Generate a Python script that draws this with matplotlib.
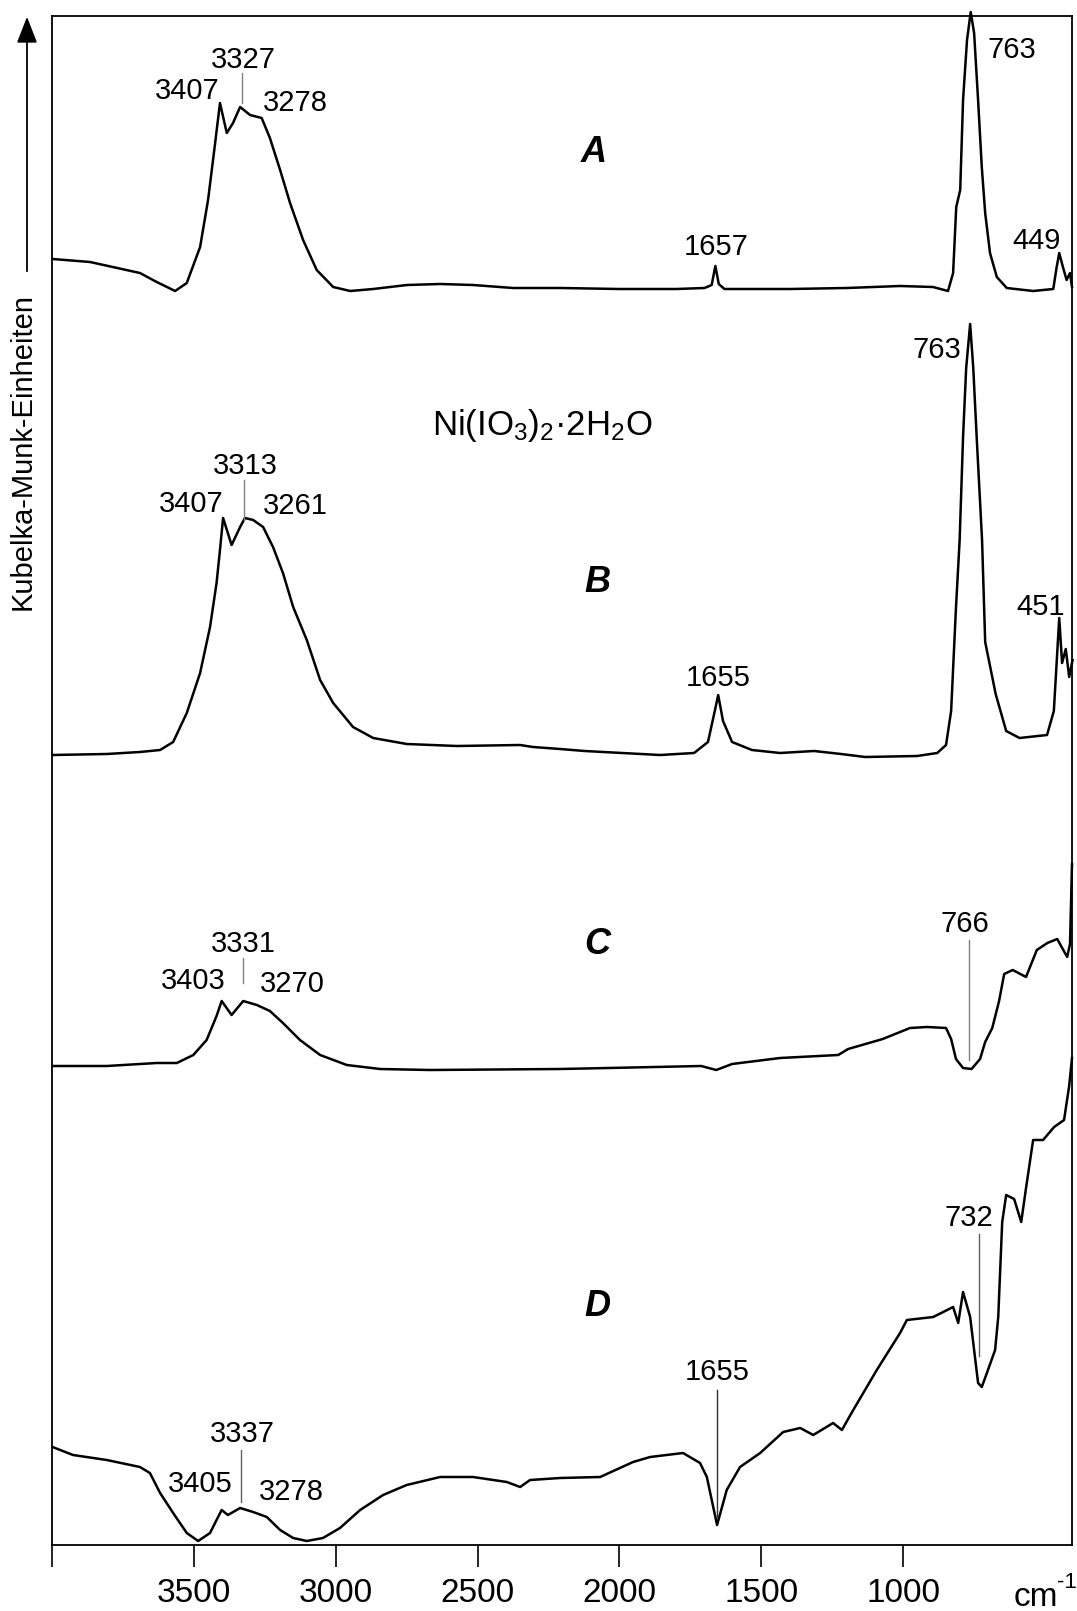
import matplotlib
matplotlib.use("Agg")
import matplotlib.pyplot as plt

plt.rcParams['font.family'] = ['Liberation Sans', 'DejaVu Sans']
plt.rcParams['mathtext.fontset'] = 'custom'
plt.rcParams['mathtext.rm'] = 'Liberation Sans'
plt.rcParams['mathtext.it'] = 'Liberation Sans:italic'
plt.rcParams['mathtext.bf'] = 'Liberation Sans:bold'

# --- spectra: wavenumber (cm-1) and Kubelka-Munk intensity (arb. units) ---
wn_a = [3998, 3866, 3690, 3631, 3566, 3525, 3478, 3450, 3425, 3408, 3384, 3362,
        3337, 3302, 3261, 3232, 3196, 3161, 3115, 3067, 3009, 2949, 2868, 2749,
        2632, 2516, 2375, 2209, 2000, 1800, 1700, 1675, 1662, 1650, 1630, 1400,
        1200, 1011, 895, 842, 824, 813, 799, 789, 775, 762, 750, 736, 723, 711,
        694, 670, 635, 542, 471, 459, 450, 437, 424, 412, 405]
km_a = [32, 29, 18, 9, 0, 8, 44, 91, 148, 188, 158, 168,
        184, 176, 173, 153, 121, 88, 51, 21, 4, 0, 2, 6,
        7, 6, 3, 3, 2, 2, 3, 6, 25, 7, 2, 2,
        3, 5, 4, 0, 18, 84, 101, 191, 251, 279, 258, 191, 124, 78,
        38, 14, 3, 0, 2, 24, 38, 24, 11, 18, 4]

wn_b = [3998, 3807, 3690, 3619, 3573, 3525, 3478, 3443, 3420, 3408, 3397, 3367,
        3337, 3320, 3291, 3256, 3221, 3186, 3150, 3102, 3055, 3009, 2939, 2868,
        2750, 2573, 2350, 2305, 2209, 2123, 1857, 1737, 1688, 1664, 1652, 1635,
        1603, 1533, 1434, 1314, 1219, 1134, 951, 880, 849, 831, 814, 801, 789,
        778, 764, 753, 741, 722, 711, 674, 637, 590, 493, 469, 450, 440, 427,
        415, 403]
km_b = [2, 3, 5, 7, 15, 44, 84, 130, 174, 207, 239, 212,
        230, 239, 237, 230, 210, 184, 150, 117, 77, 54, 30, 19,
        13, 11, 12, 10, 8, 6, 2, 4, 15, 46, 62, 36,
        15, 7, 4, 6, 3, 0, 1, 4, 12, 46, 149, 217, 320,
        389, 433, 389, 320, 217, 115, 63, 26, 19, 22, 46, 139, 94, 108,
        80, 97]

wn_c = [3998, 3807, 3631, 3560, 3502, 3455, 3420, 3402, 3367, 3326, 3278, 3232,
        3186, 3126, 3055, 2961, 2844, 2668, 2209, 2038, 1712, 1659, 1603, 1434,
        1229, 1194, 1072, 976, 916, 849, 831, 814, 789, 759, 729, 711, 686, 662,
        644, 614, 567, 529, 492, 457, 422, 412, 405]
km_c = [3, 3, 6, 6, 14, 29, 53, 68, 54, 68, 64, 58,
        46, 29, 14, 4, 0, -1, 0, 1, 3, -1, 5, 11,
        14, 20, 30, 41, 42, 41, 30, 10, 1, 0, 10, 27, 41, 68,
        95, 99, 92, 119, 126, 130, 112, 125, 205]

wn_d = [3998, 3926, 3807, 3690, 3655, 3619, 3573, 3525, 3485, 3443, 3420, 3402,
        3380, 3337, 3291, 3243, 3196, 3150, 3102, 3045, 2985, 2914, 2833, 2750,
        2632, 2516, 2397, 2350, 2315, 2209, 2068, 1952, 1892, 1776, 1716, 1692,
        1656, 1622, 1575, 1504, 1423, 1363, 1317, 1247, 1216, 1176, 1093, 1011,
        987, 894, 824, 806, 789, 764, 736, 723, 705, 676, 665, 651, 637, 609,
        584, 567, 542, 507, 468, 433, 415, 405]
km_d = [94, 86, 81, 74, 68, 48, 28, 8, 0, 8, 21, 31,
        26, 33, 29, 24, 11, 3, 0, 3, 13, 31, 46, 56,
        64, 64, 59, 54, 61, 63, 64, 79, 84, 88, 78, 64,
        16, 51, 74, 88, 109, 113, 106, 118, 111, 131, 171, 208,
        221, 224, 234, 218, 249, 224, 158, 154, 168, 191, 224, 319, 346, 342,
        319, 353, 401, 401, 414, 421, 455, 483]

# vertical stacking of the four traces
offsets = {'A': 1254, 'B': 788, 'C': 476, 'D': 4}
spectra = {'A': (wn_a, km_a), 'B': (wn_b, km_b), 'C': (wn_c, km_c), 'D': (wn_d, km_d)}

x_ticks = [4000, 3500, 3000, 2500, 2000, 1500, 1000]
x_ticklabels = ['', '3500', '3000', '2500', '2000', '1500', '1000']

# peak labels: (text, x, y) in data units of the stacked plot
peak_labels = [
    ('3407', 3524, 1454), ('3327', 3327, 1485), ('3278', 3143, 1442),
    ('1657', 1659, 1298), ('763', 616, 1495), ('449', 531, 1304),
    ('763', 880, 1195), ('3407', 3510, 1041), ('3313', 3320, 1079),
    ('3261', 3143, 1039), ('1655', 1652, 867), ('451', 517, 938),
    ('3331', 3327, 601), ('3403', 3503, 564), ('3270', 3154, 561),
    ('766', 782, 621), ('732', 768, 327), ('1655', 1656, 173),
    ('3337', 3330, 111), ('3405', 3478, 61), ('3278', 3158, 53),
]
# marker lines: (x, y_top, y_bottom, colour)
peak_lines = [
    (3330, 1472, 1442, '#808080'), (3323, 1065, 1025, '#808080'),
    (3327, 587, 562, '#808080'), (768, 605, 485, '#808080'),
    (732, 311, 189, '#606060'), (1656, 155, 28, '#303030'),
    (3334, 95, 43, '#606060'),
]
trace_labels = [('A', 2089, 1393), ('B', 2079, 962), ('C', 2079, 601), ('D', 2079, 238)]

fig = plt.figure(figsize=(10.77, 16.11), dpi=100)
ax = fig.add_axes([52 / 1077, 66 / 1611, 1020 / 1077, 1529 / 1611])

for key, (wn, km) in spectra.items():
    ax.plot(wn, [v + offsets[key] for v in km], color='black', lw=1.8, clip_on=False)

for x, y1, y2, c in peak_lines:
    ax.plot([x, x], [y1, y2], color=c, lw=1.0)

for txt, x, y in peak_labels:
    ax.text(x, y, txt, fontsize=21, ha='center', va='center')

for txt, x, y in trace_labels:
    ax.text(x, y, txt, fontsize=26, fontweight='bold', fontstyle='italic',
            ha='center', va='center')

ax.text(2273, 1119, r'Ni(IO$_3$)$_2$·2H$_2$O', fontsize=25, ha='center', va='center')

ax.set_xlim(4000, 405)
ax.set_ylim(0, 1529)
ax.set_yticks([])
ax.set_xticks(x_ticks)
ax.set_xticklabels(x_ticklabels, fontsize=24)
ax.tick_params(axis='x', direction='out', length=16, width=1.2, pad=8)
for sp in ax.spines.values():
    sp.set_linewidth(1.3)

fig.text(1036 / 1077, 1 - 1597 / 1611, 'cm', fontsize=24, ha='center', va='center')
fig.text(1067 / 1077, 1 - 1582 / 1611, '-1', fontsize=16, ha='center', va='center')

fig.text(23 / 1077, 1 - 452 / 1611, 'Kubelka-Munk-Einheiten', fontsize=21,
         rotation=90, ha='center', va='center')
fig.add_artist(matplotlib.patches.FancyArrowPatch(
    (27 / 1077, 1 - 274 / 1611), (27 / 1077, 1 - 14 / 1611),
    transform=fig.transFigure, arrowstyle='-|>,head_length=0.9,head_width=0.35',
    mutation_scale=18, color='black', lw=1.3))

fig.savefig('out.png', dpi=100)
